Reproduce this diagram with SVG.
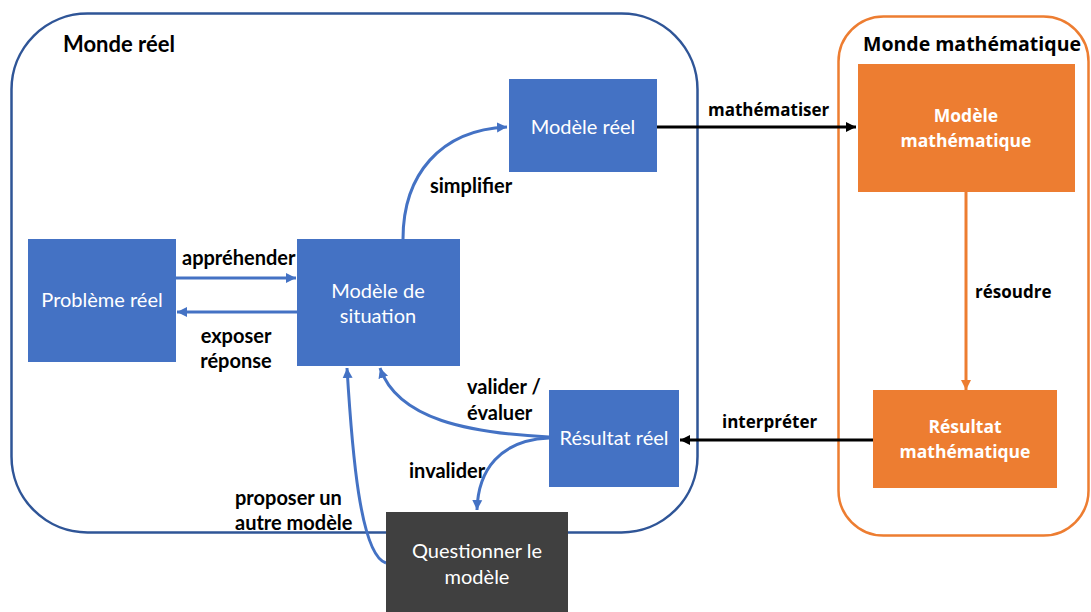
<svg xmlns="http://www.w3.org/2000/svg" width="1091" height="612" viewBox="0 0 1091 612">
  <style>
    .lbl { font-family: Lato, "Liberation Sans", sans-serif; font-weight: 700; font-size: 20px; fill: #000; }
    .box-b { fill: #4472C4; }
    .box-o { fill: #ED7D31; }
    .box-d { fill: #404040; }
    .bt { font-family: Lato, "Liberation Sans", sans-serif; font-weight: 400; font-size: 20px; fill: #fff; text-anchor: middle; }
    .ot { font-family: "Open Sans", "DejaVu Sans", sans-serif; font-weight: 700; font-size: 17.5px; fill: #fff; text-anchor: middle; }
    .olbl { font-family: "Open Sans", "DejaVu Sans", sans-serif; font-weight: 700; font-size: 17px; fill: #000; }
    .blue { fill: none; stroke: #4472C4; stroke-width: 3; marker-end: url(#ab); }
    .black { fill: none; stroke: #000; stroke-width: 3; marker-end: url(#ak); }
    .orange { fill: none; stroke: #ED7D31; stroke-width: 3; marker-end: url(#ao); }
  </style>
  <defs>
    <marker id="ab" markerUnits="userSpaceOnUse" markerWidth="12" markerHeight="12" refX="10" refY="5" orient="auto" viewBox="0 0 12 10">
      <path d="M0,0 L10,5 L0,10 z" fill="#4472C4"/>
    </marker>
    <marker id="ak" markerUnits="userSpaceOnUse" markerWidth="12" markerHeight="12" refX="10" refY="5" orient="auto" viewBox="0 0 12 10">
      <path d="M0,0 L10,5 L0,10 z" fill="#000"/>
    </marker>
    <marker id="ao" markerUnits="userSpaceOnUse" markerWidth="12" markerHeight="12" refX="10" refY="5" orient="auto" viewBox="0 0 12 10">
      <path d="M0,0 L10,5 L0,10 z" fill="#ED7D31"/>
    </marker>
  </defs>
  <rect width="1091" height="612" fill="#fff"/>

  <g id="monde-reel">
    <rect x="11.5" y="13.5" width="686" height="519" rx="76" ry="76" fill="none" stroke="#2F5597" stroke-width="2.5"/>
    <text class="lbl" x="63" y="52" style="font-size:22px">Monde réel</text>
  </g>
  <g id="monde-math">
    <rect x="838.5" y="16.5" width="250" height="519" rx="45" ry="45" fill="none" stroke="#ED7D31" stroke-width="2.5"/>
    <text class="olbl" x="972" y="51" text-anchor="middle" style="font-size:19.5px">Monde mathématique</text>
  </g>

  <g id="connectors">
    <path class="blue" d="M176,278 L296,278"/>
    <path class="blue" d="M297,312 L177,312"/>
    <path class="blue" d="M403,239 C403,175 440,130 507,127"/>
    <path class="black" d="M657,127 L856,127"/>
    <path class="orange" d="M966,192 L966,390"/>
    <path class="black" d="M873,440 L680,440"/>
    <path class="blue" d="M549,437 C470,433 398,420 380,368"/>
    <path class="blue" d="M549,438 C500,440 478,470 477,510"/>
    <path class="blue" d="M386,563 C360,555 352,450 347,368"/>
    <text class="lbl" x="182" y="265">appréhender</text>
    <text class="lbl" x="236" y="343" text-anchor="middle">exposer</text>
    <text class="lbl" x="236" y="368" text-anchor="middle">réponse</text>
    <text class="lbl" x="430" y="193">simplifier</text>
    <text class="olbl" x="708" y="116">mathématiser</text>
    <text class="olbl" x="975" y="298">résoudre</text>
    <text class="olbl" x="722" y="428">interpréter</text>
    <text class="lbl" x="467" y="394">valider /</text>
    <text class="lbl" x="467" y="420">évaluer</text>
    <text class="lbl" x="409" y="478">invalider</text>
    <text class="lbl" x="235" y="505">proposer un</text>
    <text class="lbl" x="235" y="530">autre modèle</text>
  </g>

  <g id="probleme-reel">
    <rect class="box-b" x="28" y="239" width="148" height="123"/>
    <text class="bt" x="102" y="307">Problème réel</text>
  </g>
  <g id="modele-situation">
    <rect class="box-b" x="297" y="239" width="163" height="127"/>
    <text class="bt" x="378" y="298">Modèle de</text>
    <text class="bt" x="378" y="323">situation</text>
  </g>
  <g id="modele-reel">
    <rect class="box-b" x="509" y="79" width="148" height="93"/>
    <text class="bt" x="583" y="134">Modèle réel</text>
  </g>
  <g id="resultat-reel">
    <rect class="box-b" x="549" y="390" width="130" height="97"/>
    <text class="bt" x="614" y="445">Résultat réel</text>
  </g>
  <g id="questionner">
    <rect class="box-d" x="386" y="512" width="182" height="100"/>
    <text class="bt" x="477" y="558">Questionner le</text>
    <text class="bt" x="477" y="584">modèle</text>
  </g>
  <g id="modele-math">
    <rect class="box-o" x="858" y="64" width="217" height="128"/>
    <text class="ot" x="966" y="122">Modèle</text>
    <text class="ot" x="966" y="147">mathématique</text>
  </g>
  <g id="resultat-math">
    <rect class="box-o" x="873" y="390" width="184" height="98"/>
    <text class="ot" x="965" y="433">Résultat</text>
    <text class="ot" x="965" y="458">mathématique</text>
  </g>
</svg>
